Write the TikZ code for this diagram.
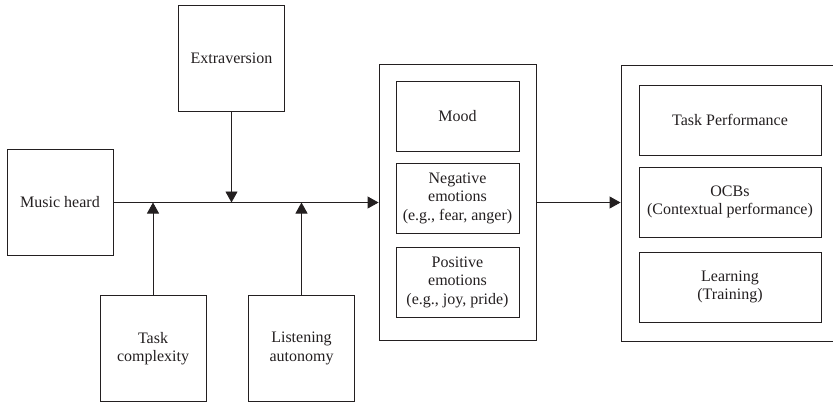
\documentclass[tikz,border=0pt]{standalone}
\usepackage{fontspec}
\setmainfont{Liberation Serif}
\usetikzlibrary{arrows.meta}
\definecolor{ink}{HTML}{231F20}
\begin{document}
\begin{tikzpicture}[x=1pt,y=-1pt,
  every node/.style={font=\fontsize{16}{18.5}\selectfont, text=ink},
  box/.style={draw=ink, line width=0.9pt, inner sep=0pt, align=center,
    minimum width=106pt, minimum height=106pt},
  inbox/.style={draw=ink, line width=0.9pt, inner sep=0pt, align=center,
    minimum height=70pt},
  frame/.style={draw=ink, line width=0.9pt, inner sep=0pt},
  link/.style={draw=ink, line width=0.9pt, -{Triangle[length=11pt,width=12pt]}}]
\useasboundingbox (0,0) rectangle (833,402);

% predictor and moderator boxes
\node[box] (ext) at (231.5,58) {Extraversion};
\node[box] (mh)  at (60,202.5) {Music heard};
\node[box] (tc)  at (153,348.5) {Task\\complexity};
\node[box] (la)  at (301.5,348.5) {Listening\\autonomy};

% affective states
\node[frame, minimum width=157pt, minimum height=276pt] (aff) at (457.5,202) {};
\node[inbox, minimum width=123pt] (mood) at (457.5,116) {Mood};
\node[inbox, minimum width=123pt] (neg)  at (457.5,198) {Negative\\emotions\\(e.g., fear, anger)};
\node[inbox, minimum width=123pt] (pos)  at (457.5,282) {Positive\\emotions\\(e.g., joy, pride)};

% work outcomes (frame runs past the right edge)
\node[frame, minimum width=232pt, minimum height=276pt] (out) at (737,203) {};
\node[inbox, minimum width=182pt] (tp)  at (730,120) {Task Performance};
\node[inbox, minimum width=182pt] (ocb) at (730,202) {OCBs\\(Contextual performance)};
\node[inbox, minimum width=182pt] (lrn) at (730,287) {Learning\\(Training)};

% main path and moderating arrows
\draw[link] (mh.east) -- (mh.east -| aff.west);
\draw[link] (ext.south) -- (ext.south |- mh.east);
\draw[link] (tc.north) -- (tc.north |- mh.east);
\draw[link] (la.north) -- (la.north |- mh.east);
\draw[link] (aff.east |- mh.east) -- (out.west |- mh.east);
\end{tikzpicture}
\end{document}
